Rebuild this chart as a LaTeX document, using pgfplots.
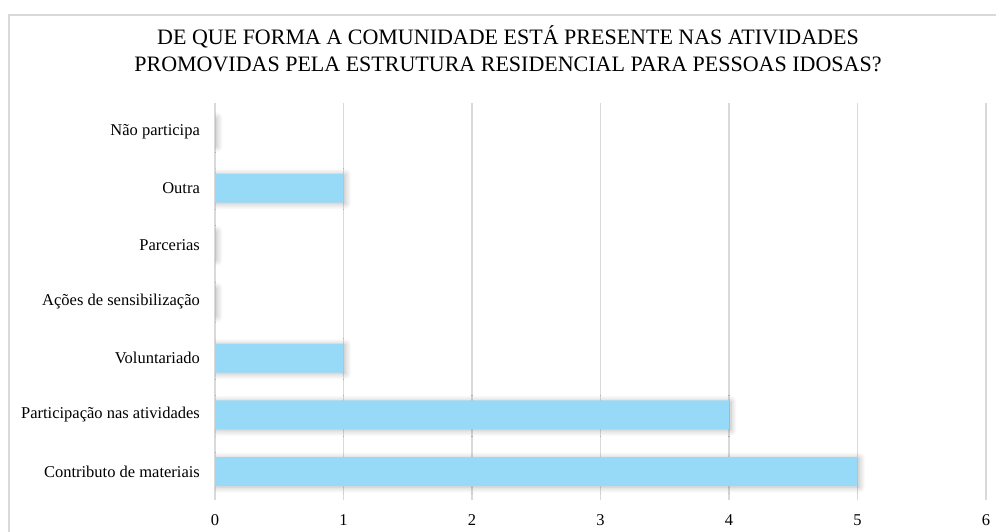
\documentclass[border=0pt]{standalone}
\usepackage{fontspec}
\setmainfont{Liberation Serif}
\usepackage{pgfplots}
\pgfplotsset{compat=1.18}
\usetikzlibrary{shadows.blur}
\definecolor{barblue}{HTML}{97DAF7}
\definecolor{gridgray}{HTML}{D9D9D9}
\begin{document}
\begin{tikzpicture}
\useasboundingbox (0,0) rectangle (996pt,-532pt);
% chart frame (cropped on the right and bottom)
\draw[gridgray, line width=1.5pt] (9pt,-540pt) -- (9pt,-15pt) -- (1005pt,-15pt);
\node[font=\rmfamily\fontsize{22}{27}\selectfont, anchor=base] at (508pt,-45pt) {DE QUE FORMA A COMUNIDADE ESTÁ PRESENTE NAS ATIVIDADES};
\node[font=\rmfamily\fontsize{22}{27}\selectfont, anchor=base] at (508pt,-72pt) {PROMOVIDAS PELA ESTRUTURA RESIDENCIAL PARA PESSOAS IDOSAS?};
\begin{axis}[
  at={(215pt,-500pt)}, anchor=south west,
  scale only axis, width=771pt, height=397pt,
  xbar, bar width=29pt,
  xmin=0, xmax=6, ymin=-0.5, ymax=6.5,
  xtick={0,...,6}, ytick={0,...,6},
  yticklabels={Contributo de materiais, Participação nas atividades, Voluntariado, Ações de sensibilização, Parcerias, Outra, Não participa},
  axis lines=left, axis line style={draw=none},
  xmajorgrids, major grid style={gridgray, line width=1.2pt},
  major tick style={draw=none},
  ticklabel style={font=\fontsize{16.5}{18}\selectfont},
  xticklabel style={yshift=-9pt},
  yticklabel style={xshift=-9.5pt},
  /pgf/number format/assume math mode=true,
]
\addplot[fill=barblue, draw=none,
  blur shadow={shadow xshift=2pt, shadow yshift=-1pt, shadow blur radius=6pt, shadow opacity=28, shadow blur steps=8}]
  coordinates {(5,0) (4,1) (1,2) (0,3) (0,4) (1,5) (0,6)};
\end{axis}
\end{tikzpicture}
\end{document}
